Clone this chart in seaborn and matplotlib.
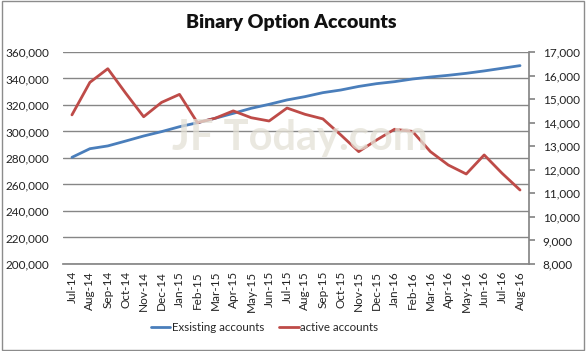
import matplotlib
matplotlib.use("Agg")
import matplotlib.pyplot as plt
import matplotlib.ticker as mticker
import seaborn as sns
import pandas as pd
from matplotlib.patches import Rectangle

months = ["Jul-14", "Aug-14", "Sep-14", "Oct-14", "Nov-14", "Dec-14", "Jan-15", "Feb-15",
          "Mar-15", "Apr-15", "May-15", "Jun-15", "Jul-15", "Aug-15", "Sep-15", "Oct-15",
          "Nov-15", "Dec-15", "Jan-16", "Feb-16", "Mar-16", "Apr-16", "May-16", "Jun-16",
          "Jul-16", "Aug-16"]
existing = [280500, 287000, 289100, 292800, 296600, 299900, 303600, 306600,
            310000, 313700, 317500, 320500, 323800, 326300, 329300, 331300,
            334000, 336100, 337600, 339600, 341100, 342400, 343900, 345700,
            347700, 349700]
active = [14330, 15710, 16290, 15250, 14250, 14860, 15200, 14000,
          14190, 14500, 14210, 14070, 14620, 14355, 14160, 13480,
          12770, 13265, 13720, 13630, 12770, 12200, 11820, 12630,
          11850, 11140]
title = "Binary Option Accounts"
series_names = ["Exsisting accounts", "active accounts"]

df = pd.DataFrame({"month": months, "existing": existing, "active": active})
df["idx"] = range(len(months))

sns.set_theme(style="white")
plt.rcParams["font.family"] = ["Lato", "DejaVu Sans"]

fig = plt.figure(figsize=(5.86, 3.51), dpi=100)
ax = fig.add_axes([0.1075, 0.2479, 0.9027 - 0.1075, 0.8519 - 0.2479])
ax2 = ax.twinx()

blue = "#4A7EBB"
red = "#BE4B48"
grid_c = "#868686"

sns.lineplot(data=df, x="idx", y="existing", ax=ax, color=blue, lw=2, label=series_names[0], legend=False)
sns.lineplot(data=df, x="idx", y="active", ax=ax2, color=red, lw=2, label=series_names[1], legend=False)

ax.set_ylim(200000, 360000)
ax.yaxis.set_major_locator(mticker.MultipleLocator(20000))
ax.yaxis.set_major_formatter(mticker.FuncFormatter(lambda v, p: f"{int(v):,}"))
ax2.set_ylim(8000, 17000)
ax2.yaxis.set_major_locator(mticker.MultipleLocator(1000))
ax2.yaxis.set_major_formatter(mticker.FuncFormatter(lambda v, p: f"{int(v):,}"))

ax.set_xlim(-0.5, len(months) - 0.5)
ax.set_xticks(df["idx"])
ax.set_xticklabels(months, rotation=90, fontsize=8.5, color="#222222")
ax.grid(axis="y", color=grid_c, lw=1)
ax.set_axisbelow(True)
ax.set_xlabel("")
ax.set_ylabel("")
ax2.set_ylabel("")

for s in ["top", "left"]:
    ax.spines[s].set_visible(False)
    ax2.spines[s].set_visible(False)
ax.spines["right"].set_visible(False)
ax.spines["bottom"].set_color(grid_c)
ax2.spines["bottom"].set_visible(False)
ax2.spines["right"].set_color(grid_c)

ax.tick_params(axis="y", length=0, labelsize=8.5, labelcolor="#222222", pad=10)
ax.tick_params(axis="x", length=0, pad=5)
ax2.tick_params(axis="y", direction="out", length=4, color=grid_c, labelsize=8.5,
                labelcolor="#222222", pad=6, right=True)

ax2.text(0.508, 0.594, "JF Today.com", transform=ax.transAxes, ha="center", va="center",
         fontsize=30, fontweight="bold", color="#E4E1D6", alpha=0.75, zorder=10)

fig.text(0.497, 0.935, title, ha="center", va="center", fontsize=14, fontweight="heavy", color="#111111")

h1, l1 = ax.get_legend_handles_labels()
h2, l2 = ax2.get_legend_handles_labels()
fig.legend(h1 + h2, l1 + l2, loc="center", bbox_to_anchor=(0.451, 0.068), ncol=2, frameon=False,
           fontsize=8.3, handlelength=1.7, handletextpad=0.1, columnspacing=1.3)

fig.patches.append(Rectangle((0.003, 0.003), 0.994, 0.994, transform=fig.transFigure,
                             fill=False, edgecolor="#8C8C8C", lw=1))

fig.savefig("out.png", dpi=100)
